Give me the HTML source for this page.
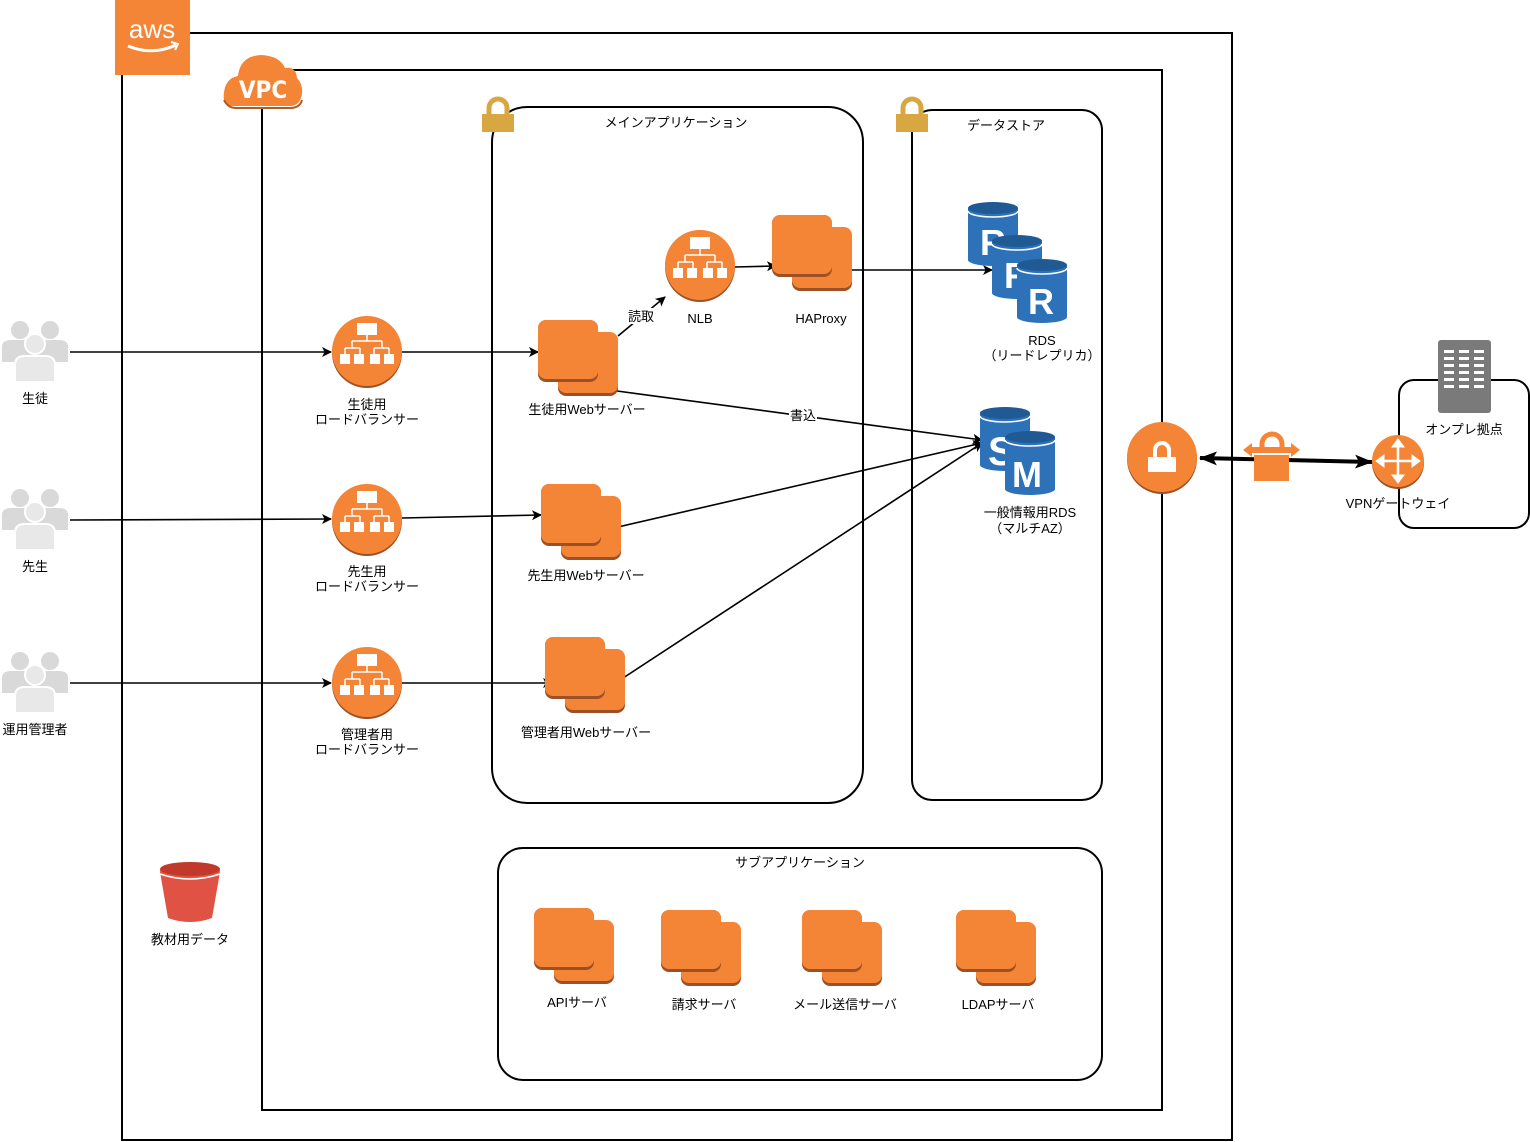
<!DOCTYPE html>
<html><head><meta charset="utf-8">
<style>
html,body{margin:0;padding:0;background:#fff;}
svg{display:block;}
text{font-family:"Liberation Sans","Noto Sans CJK JP",sans-serif;font-size:13px;fill:#000;}
</style></head><body>
<svg width="1530" height="1142" viewBox="0 0 1530 1142" xmlns="http://www.w3.org/2000/svg">
<defs>
<marker id="ar" markerWidth="10" markerHeight="10" refX="9" refY="5" orient="auto" markerUnits="userSpaceOnUse">
<path d="M0,0 L10,5 L0,10 L2.5,5 Z" fill="#000"/></marker>
<marker id="arb" markerWidth="18" markerHeight="14" refX="17" refY="7" orient="auto" markerUnits="userSpaceOnUse">
<path d="M0,0 L18,7 L0,14 L4,7 Z" fill="#000"/></marker>
<marker id="arbs" markerWidth="18" markerHeight="14" refX="1" refY="7" orient="auto" markerUnits="userSpaceOnUse">
<path d="M18,0 L0,7 L18,14 L14,7 Z" fill="#000"/></marker>
<g id="inst">
<rect x="20" y="14" width="60" height="62" rx="8" fill="#9d5025"/>
<rect x="20" y="12" width="60" height="61" rx="8" fill="#f58536"/>
<rect x="0" y="0" width="60" height="62" rx="8" fill="#9d5025"/>
<rect x="0" y="0" width="60" height="59" rx="8" fill="#f58536"/>
</g>
<g id="lb">
<circle cx="0" cy="2" r="35" fill="#9d5025"/>
<circle cx="0" cy="0" r="35" fill="#f58536"/>
<rect x="-10" y="-28" width="20" height="12" fill="#fff"/>
<path d="M0,-16 V-10 M-15,-10 H15 M-15,-10 V-3 M15,-10 V-3 M-22,-3 H-7 M7,-3 H22 M-22,-3 V3 M-7,-3 V3 M7,-3 V3 M22,-3 V3" stroke="#fff" stroke-width="1.5" fill="none"/>
<rect x="-27" y="3" width="10" height="10" fill="#fff"/><rect x="-13" y="3" width="10" height="10" fill="#fff"/>
<rect x="3" y="3" width="10" height="10" fill="#fff"/><rect x="17" y="3" width="10" height="10" fill="#fff"/>
</g>
<g id="users" fill="#d9d9d9">
<circle cx="-15" cy="-20" r="9"/><circle cx="15" cy="-20" r="9"/>
<path d="M-33,12 V-3 Q-33,-10 -24,-10 H-6 Q3,-10 3,-3 V12 Z"/>
<path d="M-3,12 V-3 Q-3,-10 6,-10 H24 Q33,-10 33,-3 V12 Z"/>
<circle cx="0" cy="-6" r="10" fill="#e8e8e8" stroke="#fff" stroke-width="2"/>
<path d="M-20,32 V15 Q-20,6 -10,6 H10 Q20,6 20,15 V32 Z" fill="#e8e8e8" stroke="#fff" stroke-width="2"/>
</g>
<g id="cyl">
<path d="M-25,-25 V27 A25,6 0 0 0 25,27 V-25 Z" fill="#2d72b8"/>
<ellipse cx="0" cy="-25" rx="25" ry="6" fill="#1f5a94"/>
<path d="M-25,-22 A25,6 0 0 0 25,-22" stroke="#fff" stroke-width="1.5" fill="none"/>
</g>
<g id="lock">
<path d="M-9,-2 V-8 A9,9 0 0 1 9,-8 V-2" stroke="#d9a741" stroke-width="5" fill="none"/>
<rect x="-16" y="-2" width="32" height="18" fill="#d9a741"/>
</g>
</defs>

<!-- AWS cloud border -->
<path d="M190,33 H1232 V1140 H122 V75" stroke="#000" stroke-width="2" fill="none"/>
<rect x="115" y="0" width="75" height="75" fill="#f58536"/>
<text x="152" y="38" text-anchor="middle" style="font-size:26px;fill:#fff">aws</text>
<path d="M128,46 Q152,56 176,45" stroke="#fff" stroke-width="3" fill="none"/>
<path d="M171,42 L178,44 L175,50" stroke="#fff" stroke-width="2" fill="none"/>

<!-- VPC -->
<path d="M287,70 H1162 V1110 H262 V107" stroke="#000" stroke-width="2" fill="none"/>
<path d="M232,106 Q222,106 224,92 Q226,78 238,76 Q240,56 261,55 Q280,56 285,68 Q296,66 297,78 Q303,84 302,94 Q300,106 290,106 Z" fill="#f58536"/>
<path d="M224,100 Q228,108 236,108 H290 Q300,108 302,100" stroke="#b15d26" stroke-width="2" fill="none"/>
<text x="263" y="98" text-anchor="middle" style="font-size:24px;fill:#fff;font-weight:bold;font-family:'DejaVu Sans Condensed','Liberation Sans',sans-serif">VPC</text>

<!-- main app box -->
<rect x="492" y="107" width="371" height="696" rx="35" stroke="#000" stroke-width="2" fill="none"/>
<use href="#lock" x="498" y="116"/>
<text x="676" y="127" text-anchor="middle">メインアプリケーション</text>

<!-- datastore -->
<rect x="912" y="110" width="190" height="690" rx="20" stroke="#000" stroke-width="2" fill="none"/>
<use href="#lock" x="912" y="116"/>
<text x="1006" y="130" text-anchor="middle">データストア</text>

<!-- sub app -->
<rect x="498" y="848" width="604" height="232" rx="25" stroke="#000" stroke-width="2" fill="none"/>
<text x="800" y="867" text-anchor="middle">サブアプリケーション</text>

<!-- connectors -->
<g stroke="#000" stroke-width="1.6" fill="none">
<line x1="70" y1="352" x2="331" y2="352" marker-end="url(#ar)"/>
<line x1="402" y1="352" x2="538" y2="352" marker-end="url(#ar)"/>
<line x1="70" y1="520" x2="331" y2="519" marker-end="url(#ar)"/>
<line x1="402" y1="518" x2="541" y2="515" marker-end="url(#ar)"/>
<line x1="70" y1="683" x2="331" y2="683" marker-end="url(#ar)"/>
<line x1="402" y1="683" x2="552" y2="683" marker-end="url(#ar)"/>
<line x1="618" y1="336" x2="665" y2="297" marker-end="url(#ar)"/>
<line x1="735" y1="267" x2="776" y2="266" marker-end="url(#ar)"/>
<line x1="852" y1="270" x2="992" y2="270" marker-end="url(#ar)"/>
<line x1="617" y1="391" x2="982" y2="440" marker-end="url(#ar)"/>
<line x1="618" y1="527" x2="982" y2="443" marker-end="url(#ar)"/>
<line x1="620" y1="680" x2="982" y2="443" marker-end="url(#ar)"/>
</g>
<rect x="628" y="308" width="28" height="16" fill="#fff"/>
<text x="641" y="321" text-anchor="middle">読取</text>
<rect x="789" y="407" width="28" height="16" fill="#fff"/>
<text x="803" y="420" text-anchor="middle">書込</text>

<!-- users -->
<use href="#users" x="35" y="350"/>
<text x="35" y="403" text-anchor="middle">生徒</text>
<use href="#users" x="35" y="518"/>
<text x="35" y="571" text-anchor="middle">先生</text>
<use href="#users" x="35" y="681"/>
<text x="35" y="734" text-anchor="middle">運用管理者</text>

<!-- LBs -->
<use href="#lb" x="367" y="351"/>
<text x="367" y="409" text-anchor="middle">生徒用</text>
<text x="367" y="424" text-anchor="middle">ロードバランサー</text>
<use href="#lb" x="367" y="519"/>
<text x="367" y="576" text-anchor="middle">先生用</text>
<text x="367" y="591" text-anchor="middle">ロードバランサー</text>
<use href="#lb" x="367" y="682"/>
<text x="367" y="739" text-anchor="middle">管理者用</text>
<text x="367" y="754" text-anchor="middle">ロードバランサー</text>

<!-- web servers -->
<use href="#inst" x="538" y="320"/>
<text x="587" y="414" text-anchor="middle">生徒用Webサーバー</text>
<use href="#inst" x="541" y="484"/>
<text x="586" y="580" text-anchor="middle">先生用Webサーバー</text>
<use href="#inst" x="545" y="637"/>
<text x="586" y="737" text-anchor="middle">管理者用Webサーバー</text>

<!-- NLB / HAProxy -->
<use href="#lb" x="700" y="265"/>
<text x="700" y="323" text-anchor="middle">NLB</text>
<use href="#inst" x="772" y="215"/>
<text x="821" y="323" text-anchor="middle">HAProxy</text>

<!-- RDS replicas -->
<use href="#cyl" x="993" y="233"/>
<text x="980" y="255" style="font-size:36px;font-weight:bold;fill:#fff">R</text>
<use href="#cyl" x="1017" y="266"/>
<text x="1004" y="288" style="font-size:36px;font-weight:bold;fill:#fff">R</text>
<use href="#cyl" x="1042" y="290"/>
<text x="1028" y="314" style="font-size:36px;font-weight:bold;fill:#fff">R</text>
<text x="1042" y="345" text-anchor="middle">RDS</text>
<text x="1042" y="360" text-anchor="middle">（リードレプリカ）</text>

<!-- multi AZ -->
<use href="#cyl" x="1005" y="438"/>
<text x="988" y="465" style="font-size:40px;font-weight:bold;fill:#fff">S</text>
<use href="#cyl" x="1030" y="462"/>
<text x="1012" y="487" style="font-size:36px;font-weight:bold;fill:#fff">M</text>
<text x="1030" y="517" text-anchor="middle">一般情報用RDS</text>
<text x="1030" y="533" text-anchor="middle">（マルチAZ）</text>

<!-- VPN -->
<line x1="1200" y1="458" x2="1372" y2="462" stroke="#000" stroke-width="4" marker-end="url(#arb)" marker-start="url(#arbs)"/>
<circle cx="1162" cy="459" r="35" fill="#9d5025"/>
<circle cx="1162" cy="457" r="35" fill="#f58536"/>
<path d="M1155,458 V450 A7,7 0 0 1 1169,450 V458" stroke="#fff" stroke-width="4" fill="none"/>
<rect x="1148" y="457" width="28" height="15" fill="#fff"/>
<g fill="#f58536">
<path d="M1262,450 V444 A10,10 0 0 1 1282,444 V450" stroke="#f58536" stroke-width="5" fill="none"/>
<rect x="1254" y="455" width="35" height="26"/>
<path d="M1243,450 L1252,443 V447 H1291 V443 L1300,450 L1291,457 V453 H1252 V457 Z"/>
</g>
<rect x="1399" y="380" width="130" height="148" rx="15" stroke="#000" stroke-width="2" fill="none"/>
<rect x="1438" y="340" width="53" height="73" rx="3" fill="#7a7a7a"/>
<g fill="#fff">
<rect x="1444" y="350" width="10" height="3"/><rect x="1459" y="350" width="10" height="3"/><rect x="1474" y="350" width="10" height="3"/>
<rect x="1444" y="357" width="10" height="3"/><rect x="1459" y="357" width="10" height="3"/><rect x="1474" y="357" width="10" height="3"/>
<rect x="1444" y="364" width="10" height="3"/><rect x="1459" y="364" width="10" height="3"/><rect x="1474" y="364" width="10" height="3"/>
<rect x="1444" y="371" width="10" height="3"/><rect x="1459" y="371" width="10" height="3"/><rect x="1474" y="371" width="10" height="3"/>
<rect x="1444" y="378" width="10" height="3"/><rect x="1459" y="378" width="10" height="3"/><rect x="1474" y="378" width="10" height="3"/>
<rect x="1444" y="385" width="10" height="3"/><rect x="1459" y="385" width="10" height="3"/><rect x="1474" y="385" width="10" height="3"/>
</g>
<text x="1464" y="434" text-anchor="middle">オンプレ拠点</text>
<circle cx="1398" cy="463" r="26" fill="#9d5025"/>
<circle cx="1398" cy="461" r="26" fill="#f58536"/>
<g stroke="#fff" stroke-width="2.5" fill="#fff">
<line x1="1398" y1="442" x2="1398" y2="480"/><line x1="1379" y1="461" x2="1417" y2="461"/>
<path d="M1392,447 L1398,439 L1404,447 Z M1392,475 L1398,483 L1404,475 Z M1384,455 L1376,461 L1384,467 Z M1412,455 L1420,461 L1412,467 Z" stroke-width="1"/>
</g>
<text x="1398" y="508" text-anchor="middle">VPNゲートウェイ</text>

<!-- S3 -->
<path d="M160,872 L168,918 Q190,926 212,918 L220,872 Z" fill="#e05243"/>
<ellipse cx="190" cy="871" rx="30" ry="8" fill="#e05243"/>
<ellipse cx="190" cy="869" rx="30" ry="7" fill="#c0392b"/>
<path d="M160,874 Q190,884 220,874" stroke="#fff" stroke-width="1.5" fill="none"/>
<text x="190" y="944" text-anchor="middle">教材用データ</text>

<!-- sub app servers -->
<use href="#inst" x="534" y="908" transform="translate(0,0)"/>
<text x="577" y="1007" text-anchor="middle">APIサーバ</text>
<use href="#inst" x="661" y="910"/>
<text x="704" y="1009" text-anchor="middle">請求サーバ</text>
<use href="#inst" x="802" y="910"/>
<text x="845" y="1009" text-anchor="middle">メール送信サーバ</text>
<use href="#inst" x="956" y="910"/>
<text x="998" y="1009" text-anchor="middle">LDAPサーバ</text>
</svg>
</body></html>
